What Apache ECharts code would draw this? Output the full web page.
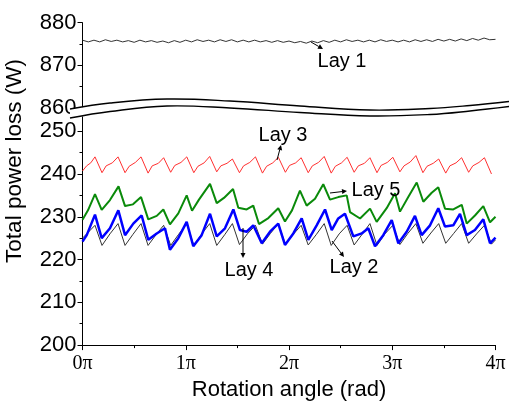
<!DOCTYPE html>
<html><head><meta charset="utf-8">
<script src="https://cdn.jsdelivr.net/npm/echarts/dist/echarts.min.js"></script>
<style>html,body{margin:0;padding:0;background:#fff}#c{width:509px;height:406px}</style>
</head><body><div id="c"></div>
<script>
// ---- data (angle in units of π, loss in W) ----
const angleTickLabels = ['0π', '1π', '2π', '3π', '4π'];

const lay1Angle = [0,0.056,0.111,0.167,0.222,0.278,0.333,0.389,0.444,0.5,0.556,0.611,0.667,0.722,0.778,0.833,0.889,0.944,1,
 1.056,1.111,1.167,1.222,1.278,1.333,1.389,1.444,1.5,1.556,1.611,1.667,1.722,1.778,1.833,1.889,1.944,2,
 2.056,2.111,2.167,2.222,2.278,2.333,2.389,2.444,2.5,2.556,2.611,2.667,2.722,2.778,2.833,2.889,2.944,3,
 3.056,3.111,3.167,3.222,3.278,3.333,3.389,3.444,3.5,3.556,3.611,3.667,3.722,3.778,3.833,3.889,3.944,4];
const lay1Loss = [875.9,875.5,875.9,875.5,876.0,875.6,875.9,875.5,875.8,875.4,
 875.9,875.5,875.8,875.4,875.7,875.3,875.8,875.4,875.9,875.5,
 876.0,875.6,875.9,875.5,876.0,875.6,876.0,875.5,875.9,875.5,
 875.9,875.5,875.8,875.4,875.8,875.4,875.7,875.3,875.6,875.2,
 875.7,875.3,875.8,875.4,875.9,875.5,876.0,875.6,875.9,875.5,
 875.9,875.5,876.0,875.6,875.9,875.5,875.9,875.5,876.0,875.6,
 876.0,875.6,876.1,875.7,876.1,875.7,876.2,875.8,876.3,875.9,
 876.4,876.0,876.1];

const lay3Angle = [0,0.04,0.08,0.121,0.189,0.229,0.289,0.344,0.412,0.452,0.512,0.567,0.635,0.675,0.735,0.786,
 0.854,0.894,0.954,1.010,1.078,1.118,1.178,1.232,1.300,1.340,1.400,1.452,1.520,1.560,1.620,1.675,
 1.743,1.783,1.843,1.897,1.965,2.005,2.065,2.118,2.186,2.226,2.286,2.341,2.409,2.449,2.509,2.563,
 2.631,2.671,2.731,2.784,2.852,2.892,2.952,3.006,3.074,3.114,3.174,3.229,3.297,3.337,3.397,3.450,
 3.518,3.558,3.618,3.672,3.740,3.780,3.840,3.893,3.961];
const lay3Loss = [240.7,241.9,242.6,244.0, 240.3,241.9,242.6,244.0, 240.3,241.8,242.7,244.0,
 240.2,241.9,242.5,243.8, 240.4,242.0,242.7,244.0, 240.3,241.8,242.6,244.1,
 240.5,241.9,242.5,243.5, 240.3,241.9,242.7,244.0, 240.2,241.8,242.6,243.9,
 240.4,242.0,242.6,243.8, 240.3,241.9,242.7,244.1, 240.2,241.8,242.6,243.9,
 240.4,241.9,242.5,243.8, 240.3,242.0,242.7,243.9, 240.5,241.9,242.8,244.3,
 240.3,241.8,242.5,243.5, 240.2,241.9,242.6,243.8, 240.4,241.9,242.7,243.8, 240.0];

const lay2Angle = [0,0.121,0.189,0.266,0.344,0.412,0.489,0.567,0.635,0.712,0.786,0.854,0.931,1.010,1.078,1.155,
 1.232,1.300,1.377,1.452,1.520,1.597,1.675,1.743,1.820,1.897,1.965,2.042,2.118,2.186,2.263,2.341,2.409,
 2.486,2.563,2.631,2.708,2.784,2.852,2.929,3.006,3.074,3.151,3.229,3.297,3.374,3.450,3.518,3.595,3.672,
 3.740,3.817,3.893,3.961,4.0];
const lay2Loss = [225.0, 228.0,223.3,226.0, 228.4,223.3,225.9, 228.4,223.3,225.8, 228.0,223.3,225.9,
 228.4,223.3,226.0, 228.4,223.3,225.8, 228.4,223.5,226.0, 228.0,223.6,226.1, 228.4,223.5,225.9,
 228.0,223.4,225.8, 228.4,223.3,226.0, 228.0,223.4,225.9, 228.4,223.3,226.0, 228.0,223.5,226.1,
 228.4,223.8,226.2, 228.4,223.8,226.1, 228.4,223.8,226.0, 228.0,223.6, 224.6];

const lay4Angle = [0,0.041,0.121,0.186,0.266,0.347,0.412,0.492,0.573,0.637,0.719,0.799,0.847,0.928,1.009,
 1.073,1.154,1.235,1.300,1.380,1.461,1.525,1.590,1.654,1.736,1.816,1.896,1.961,2.042,2.123,2.187,2.268,
 2.349,2.414,2.477,2.542,2.623,2.704,2.768,2.833,2.913,2.995,3.059,3.140,3.220,3.285,3.366,3.446,3.511,
 3.591,3.656,3.721,3.801,3.882,3.947,4.0];
const lay4Loss = [224.2,225.7,230.5,225.0,227.3,231.5,225.7,228.4,230.3,224.6,226.1,227.3,222.3,225.0,228.8,
 223.1,225.7,230.7,225.4,227.3,231.7,226.9,226.5,228.0,223.8,226.5,228.4,223.4,226.1,229.6,224.6,228.0,
 231.7,226.9,229.6,230.7,225.4,226.1,227.3,223.1,225.7,229.2,223.8,226.5,230.2,225.7,228.0,232.0,227.7,
 228.0,230.7,225.7,226.9,229.4,223.8,225.1];

const lay5Angle = [0,0.053,0.121,0.186,0.266,0.349,0.412,0.489,0.567,0.637,0.719,0.783,0.847,0.928,1.009,
 1.061,1.128,1.235,1.300,1.370,1.458,1.509,1.590,1.654,1.709,1.800,1.896,1.961,2.029,2.106,2.171,2.252,
 2.332,2.397,2.477,2.559,2.591,2.688,2.785,2.849,2.946,3.027,3.075,3.155,3.237,3.301,3.382,3.446,3.511,
 3.591,3.673,3.721,3.801,3.882,3.947,4.0];
const lay5Loss = [229.3,231.5,235.3,231.6,233.9,237.1,232.5,232.9,234.6,229.4,230.2,231.7,228.2,230.8,235.0,
 231.4,234.0,237.7,233.2,234.4,236.5,232.1,231.7,232.6,228.3,229.7,232.0,228.9,231.5,236.1,232.6,234.2,
 237.6,234.0,234.6,235.0,231.1,229.6,231.9,228.8,232.0,235.5,231.2,234.6,238.0,233.5,235.6,236.9,231.9,
 231.7,232.8,228.4,230.3,232.5,228.7,230.0];

const upperRange = [860, 880];
const lowerRange = [200, 250];
const seriesNames = ['Lay 1', 'Lay 2', 'Lay 3', 'Lay 4', 'Lay 5'];

// ---- chart ----
const zip = (a, b) => a.map((v, i) => [v, b[i]]);
const sans = '"Liberation Sans", Arial, sans-serif';
const serif = '"Liberation Serif", "Times New Roman", serif';

const axisCommon = {
  axisLine: { show: true, lineStyle: { color: '#000', width: 1 } },
  axisTick: { show: true, inside: false, length: 5, lineStyle: { color: '#000' } },
  minorTick: { show: true, splitNumber: 2, length: 3, lineStyle: { color: '#000' } },
  splitLine: { show: false }
};

const chart = echarts.init(document.getElementById('c'), null, { renderer: 'canvas' });

function arrow(x1, y1, x2, y2) {
  const ang = Math.atan2(y2 - y1, x2 - x1), L = 5, W = 2.5;
  const bx = x2 - L * Math.cos(ang), by = y2 - L * Math.sin(ang);
  const px = -Math.sin(ang) * W, py = Math.cos(ang) * W;
  return [
    { type: 'line', shape: { x1, y1, x2: bx, y2: by }, style: { stroke: '#000', lineWidth: 1 }, z: 100 },
    { type: 'polygon', shape: { points: [[x2, y2], [bx + px, by + py], [bx - px, by - py]] }, style: { fill: '#000' }, z: 100 }
  ];
}
function label(text, x, y) {
  return { type: 'text', x, y, z: 100, style: { text, font: '20px ' + sans, fill: '#000', align: 'center', verticalAlign: 'middle' } };
}

const waveTop = [[70,109],[110,103],[167,99],[230,101],[300,106],[370,110],[430,108.5],[470,105.5],[509,101.5]];
const waveBot = [[70,118],[110,111.5],[167,106],[230,108],[300,112.5],[370,116],[430,114.5],[470,111],[509,106.5]];

const graphics = [
  { type: 'polygon', shape: { points: waveTop.concat(waveBot.slice().reverse()), smooth: 0 }, style: { fill: '#fff' }, z: 90 },
  { type: 'polyline', shape: { points: waveTop, smooth: 0.4 }, style: { stroke: '#000', lineWidth: 1.4, fill: null }, z: 95 },
  { type: 'polyline', shape: { points: waveBot, smooth: 0.4 }, style: { stroke: '#000', lineWidth: 1.4, fill: null }, z: 95 },
  { type: 'line', shape: { x1: 82.5, y1: 116.5, x2: 82.5, y2: 131.2 }, style: { stroke: '#000', lineWidth: 1 }, z: 96 },
  { type: 'text', x: 15, y: 161, rotation: Math.PI / 2, z: 100,
    style: { text: 'Total power loss (W)', font: '22.5px ' + sans, fill: '#000', align: 'center', verticalAlign: 'middle' } },
  label(seriesNames[0], 342, 61),
  label(seriesNames[2], 283, 135),
  label(seriesNames[4], 376, 190),
  label(seriesNames[3], 249, 270),
  label(seriesNames[1], 354, 267),
  ...arrow(311, 42, 323, 49),
  ...arrow(277, 160, 281, 145),
  ...arrow(330, 193, 347, 191),
  ...arrow(243, 228, 243, 258),
  ...arrow(332, 241, 344, 257)
];

const lineSeries = (name, xi, data, color, width, z) => ({
  name, type: 'line', xAxisIndex: xi, yAxisIndex: xi, data, showSymbol: false, symbol: 'none',
  lineStyle: { color, width }, itemStyle: { color }, animation: false, z
});

chart.setOption({
  animation: false,
  backgroundColor: '#fff',
  grid: [
    { left: 82.5, right: 13.5, top: 22.7, height: 85.3 },
    { left: 82.5, right: 13.5, top: 131.2, bottom: 57.3 }
  ],
  xAxis: [
    { gridIndex: 0, type: 'value', min: 0, max: 4, show: false },
    Object.assign({}, axisCommon, {
      gridIndex: 1, type: 'value', min: 0, max: 4, interval: 1,
      axisLabel: { formatter: v => angleTickLabels[Math.round(v)], fontFamily: serif, fontSize: 20, color: '#000', margin: 9 },
      name: 'Rotation angle (rad)', nameLocation: 'middle', nameGap: 32,
      nameTextStyle: { fontFamily: sans, fontSize: 22, color: '#000' }
    })
  ],
  yAxis: [
    Object.assign({}, axisCommon, {
      gridIndex: 0, type: 'value', min: upperRange[0], max: upperRange[1], interval: 10,
      axisLabel: { fontFamily: sans, fontSize: 22, color: '#000', margin: 6 }
    }),
    Object.assign({}, axisCommon, {
      gridIndex: 1, type: 'value', min: lowerRange[0], max: lowerRange[1], interval: 10,
      axisLabel: { fontFamily: sans, fontSize: 22, color: '#000', margin: 6 }
    })
  ],
  series: [
    lineSeries(seriesNames[0], 0, zip(lay1Angle, lay1Loss), '#333', 1, 2),
    lineSeries(seriesNames[2], 1, zip(lay3Angle, lay3Loss), '#ff3030', 1, 2),
    lineSeries(seriesNames[4], 1, zip(lay5Angle, lay5Loss), '#0a8a0a', 2, 3),
    lineSeries(seriesNames[1], 1, zip(lay2Angle, lay2Loss), '#333', 1, 2),
    lineSeries(seriesNames[3], 1, zip(lay4Angle, lay4Loss), '#0000ff', 2.5, 4)
  ],
  graphic: graphics
});
</script></body></html>
